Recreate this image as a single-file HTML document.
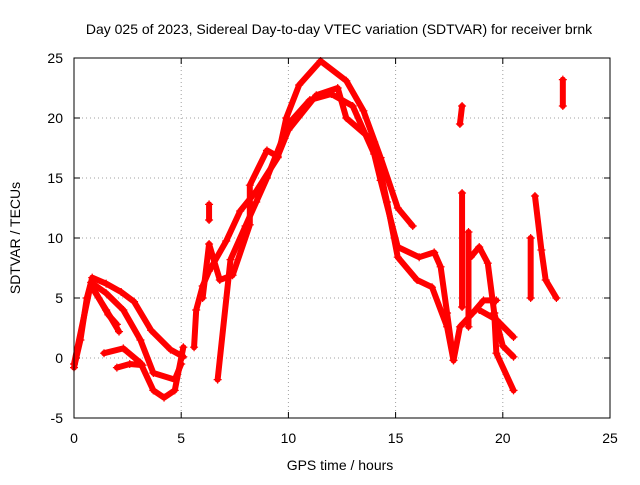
<!DOCTYPE html>
<html><head><meta charset="utf-8"><style>
body{margin:0;background:#fff;}
svg{font-family:"Liberation Sans",sans-serif;}
</style></head><body>
<svg id="chart" width="640" height="480">
<rect width="640" height="480" fill="#fff"/>
<text x="339" y="34" font-size="14" text-anchor="middle">Day 025 of 2023, Sidereal Day-to-day VTEC variation (SDTVAR) for receiver brnk</text>
<text transform="translate(20,238) rotate(-90)" font-size="14" text-anchor="middle">SDTVAR / TECUs</text>
<text x="340" y="470" font-size="14" text-anchor="middle">GPS time / hours</text>
<g id="grid"></g><g id="axes"></g><g id="series"></g>
<rect x="74" y="58" width="536" height="360" fill="none" stroke="#000"/>
</svg>
<script>
const xTicks=[0,5,10,15,20,25];
const yTicks=[-5,0,5,10,15,20,25];
const track1=[[0,-0.8],[0.3,1.5],[0.6,5],[0.85,6.7],[1.5,6.2],[2.2,5.5],[2.8,4.7],[3.6,2.3],[4.5,0.7],[5.1,0.1]];
const track2=[[0,-0.5],[0.8,6.3],[1.5,5.4],[2.3,4],[3.1,1.5],[3.7,-1.25],[4.7,-1.8],[5,-0.5]];
const track3=[[0.8,6],[1.5,4],[2.1,2.2]];
const track3b=[[0.9,5.8],[1.6,3.6],[2.0,2.8]];
const track4=[[1.4,0.4],[2.3,0.8],[3.1,-0.4],[3.7,-2.7],[4.2,-3.3],[4.7,-2.7],[5.1,0.9]];
const track4b=[[2.0,-0.8],[2.6,-0.5],[3.2,-0.6]];
const track5=[[5.6,0.9],[5.7,4],[6,6],[6.3,7.25],[7.1,9.75],[7.75,12.25],[8.5,13.9],[9.5,16.7],[9.9,20],[10.5,22.75],[11.5,24.75],[12.7,23.1],[13.5,20.6],[14.3,16.7],[15.1,12.5],[15.8,11]];
const track6=[[6.7,-1.8],[7.3,8.2],[8,11],[8.5,13],[9,15],[10,19.5],[11,21.5],[12,22],[13,21],[14,17],[14.3,14.8],[15.1,9.25],[16.1,8.4],[16.8,8.8],[17.1,7.6],[17.4,3.75],[17.7,-0.2],[18,2.6],[18.6,3.75],[19.1,4.8],[19.7,4.8]];
const track7=[[6,5],[6.3,9.5],[6.8,6.5],[7.4,6.9],[8.2,11.1],[8.2,14.4],[9,17.3],[9.5,16.8],[10,19],[11.3,21.9],[12.3,22.5],[12.7,20],[14,18],[14.6,13],[15.1,8.4],[16,6.5],[16.7,5.9],[17.4,2.6],[17.7,-0.2]];
const track8=[[18.5,8.4],[18.9,9.25],[19.3,7.9],[19.6,3.75],[19.7,0.4],[20.5,-2.7]];
const track8b=[[18.9,4],[19.7,3.2],[20.5,1.75]];
const track8c=[[19.6,3.75],[20,1],[20.5,0.1]];
const track9=[[6.3,12.8],[6.3,11.5]];
const track10=[[18,19.5],[18.1,21]];
const track11=[[18.1,4.25],[18.1,13.75]];
const track11b=[[18.4,2.6],[18.4,10.5]];
const track12=[[21.3,5],[21.3,10]];
const track13=[[21.5,13.5],[21.8,9],[22,6.5],[22.5,5]];
const track14=[[22.8,21],[22.8,23.2]];
const tracks=[track1,track2,track3,track3b,track4,track4b,track5,track6,track7,track8,track8b,track8c,track9,track10,track11,track11b,track12,track13,track14];
const X=v=>74+v*536/25, Y=v=>418-(v+5)*12;
const NS="http://www.w3.org/2000/svg";
const grid=document.getElementById('grid'),axes=document.getElementById('axes'),ser=document.getElementById('series');
function mk(tag,at,p){const e=document.createElementNS(NS,tag);for(const k in at)e.setAttribute(k,at[k]);p.appendChild(e);return e;}
xTicks.forEach(t=>{
 const g=mk('line',{x1:X(t),x2:X(t),y1:58,y2:418,stroke:'#a0a0a0','stroke-dasharray':'1,3'},grid);
 
 
 mk('line',{x1:X(t),x2:X(t),y1:418,y2:412,stroke:'#000'},axes);
 mk('line',{x1:X(t),x2:X(t),y1:58,y2:64,stroke:'#000'},axes);
 const l=mk('text',{x:X(t),y:443,'font-size':14,'text-anchor':'middle'},axes);l.textContent=t;
 
 
});
yTicks.forEach(t=>{
 const g=mk('line',{x1:74,x2:610,y1:Y(t),y2:Y(t),stroke:'#a0a0a0','stroke-dasharray':'1,3'},grid);
 
 
 mk('line',{x1:74,x2:80,y1:Y(t),y2:Y(t),stroke:'#000'},axes);
 mk('line',{x1:604,x2:610,y1:Y(t),y2:Y(t),stroke:'#000'},axes);
 const l=mk('text',{x:63,y:Y(t)+5,'font-size':14,'text-anchor':'end'},axes);l.textContent=t;
 
 
});
tracks.forEach((tr,i)=>{
 const pl=mk('polyline',{points:tr.map(p=>X(p[0])+','+Y(p[1])).join(' '),fill:'none',stroke:'#f00','stroke-width':6,'stroke-linejoin':'round','stroke-linecap':'round'},ser);
 
 
 tr.forEach(p=>{
  const m=mk('path',{d:`M${X(p[0])-4},${Y(p[1])}h8M${X(p[0])},${Y(p[1])-4}v8`,stroke:'#f00','stroke-width':1.2},ser);
  
  
 });
});
</script>
</body></html>
